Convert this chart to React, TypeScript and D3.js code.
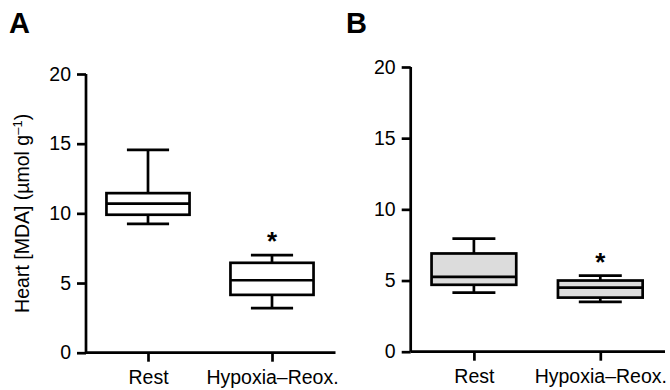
import { useEffect, useRef } from "react";
import * as d3 from "d3";

const groups = ["Rest", "Hypoxia–Reox."];
const yTicks = [0, 5, 10, 15, 20];
const significant = [false, true];

// Panel A (white boxes)
const aMin = [9.25, 3.2];
const aQ1 = [9.9, 4.15];
const aMed = [10.7, 5.2];
const aQ3 = [11.45, 6.45];
const aMax = [14.55, 7.0];

// Panel B (grey boxes)
const bMin = [4.15, 3.5];
const bQ1 = [4.7, 3.8];
const bMed = [5.25, 4.5];
const bQ3 = [6.9, 5.0];
const bMax = [7.95, 5.35];

const FONT = "'Liberation Sans', Arial, sans-serif";

interface PanelCfg {
  label: string;
  left: number; right: number; top: number; bottom: number;
  fill: string;
  min: number[]; q1: number[]; med: number[]; q3: number[]; max: number[];
  yTitle: boolean;
}

const panels: PanelCfg[] = [
  { label: "A", left: 86, right: 334, top: 74, bottom: 352.7, fill: "#ffffff",
    min: aMin, q1: aQ1, med: aMed, q3: aQ3, max: aMax, yTitle: true },
  { label: "B", left: 410.7, right: 663.5, top: 67, bottom: 351.7, fill: "#dcdcdc",
    min: bMin, q1: bQ1, med: bMed, q3: bQ3, max: bMax, yTitle: false },
];

export default function App() {
  const ref = useRef<SVGSVGElement>(null);

  useEffect(() => {
    if (!ref.current) return;
    const svg = d3.select(ref.current);
    svg.selectAll("*").remove();

    panels.forEach((p, pi) => {
      const g = svg.append("g");
      const x = d3.scalePoint<string>().domain(groups).range([p.left, p.right]).padding(0.5);
      const y = d3.scaleLinear().domain([0, 20]).range([p.bottom, p.top]);
      const step = x.step();
      const boxW = step * 0.67;
      const capW = step * 0.34;

      // panel letter
      g.append("text")
        .attr("x", pi === 0 ? 9 : 346).attr("y", 33)
        .attr("font-family", FONT).attr("font-weight", 700).attr("font-size", 29)
        .text(p.label);

      // y axis
      const yAx = g.append("g").attr("transform", `translate(${p.left},0)`)
        .call(d3.axisLeft(y).tickValues(yTicks).tickSize(9).tickPadding(6).tickFormat(d3.format("d")));
      yAx.select(".domain").attr("stroke-width", 2.7).attr("d", `M0,${p.bottom}V${p.top}`);
      yAx.selectAll("line").attr("stroke-width", 2.7);
      yAx.selectAll("text").attr("font-family", FONT).attr("font-size", 19.5).attr("fill", "#000");

      // x axis
      const xAx = g.append("g").attr("transform", `translate(0,${p.bottom})`)
        .call(d3.axisBottom(x).tickSize(9).tickPadding(8));
      xAx.select(".domain").attr("stroke-width", 2.7).attr("d", `M${p.left},0H${p.right + 1.5}`);
      xAx.selectAll("line").attr("stroke-width", 2.7);
      xAx.selectAll("text").attr("font-family", FONT).attr("font-size", 19.5).attr("fill", "#000");

      // boxes
      groups.forEach((grp, i) => {
        const cx = x(grp)!;
        const bg = g.append("g").attr("stroke", "#000").attr("stroke-width", 2.7).attr("fill", "none");
        // whiskers
        bg.append("line").attr("x1", cx).attr("x2", cx).attr("y1", y(p.max[i])).attr("y2", y(p.q3[i]));
        bg.append("line").attr("x1", cx).attr("x2", cx).attr("y1", y(p.q1[i])).attr("y2", y(p.min[i]));
        bg.append("line").attr("x1", cx - capW / 2).attr("x2", cx + capW / 2).attr("y1", y(p.max[i])).attr("y2", y(p.max[i]));
        bg.append("line").attr("x1", cx - capW / 2).attr("x2", cx + capW / 2).attr("y1", y(p.min[i])).attr("y2", y(p.min[i]));
        bg.append("rect")
          .attr("x", cx - boxW / 2).attr("y", y(p.q3[i]))
          .attr("width", boxW).attr("height", y(p.q1[i]) - y(p.q3[i]))
          .attr("fill", p.fill);
        bg.append("line").attr("x1", cx - boxW / 2).attr("x2", cx + boxW / 2).attr("y1", y(p.med[i])).attr("y2", y(p.med[i]));

        if (significant[i]) {
          g.append("text")
            .attr("x", cx).attr("y", y(p.max[i]) - 5)
            .attr("text-anchor", "middle")
            .attr("font-family", FONT).attr("font-weight", 700).attr("font-size", 26)
            .text("*");
        }
      });

      if (p.yTitle) {
        const t = g.append("text")
          .attr("transform", `translate(29,${(p.top + p.bottom) / 2})rotate(-90)`)
          .attr("text-anchor", "middle")
          .attr("font-family", FONT).attr("font-size", 19.5);
        t.append("tspan").text("Heart [MDA] (µmol g");
        t.append("tspan").attr("dy", -7).attr("font-size", 13).text("–1");
        t.append("tspan").attr("dy", 7).text(")");
      }
    });
  }, []);

  return (
    <svg ref={ref} width={670} height={390}
      style={{ position: "absolute", left: 0, top: 0, background: "#fff" }} />
  );
}
